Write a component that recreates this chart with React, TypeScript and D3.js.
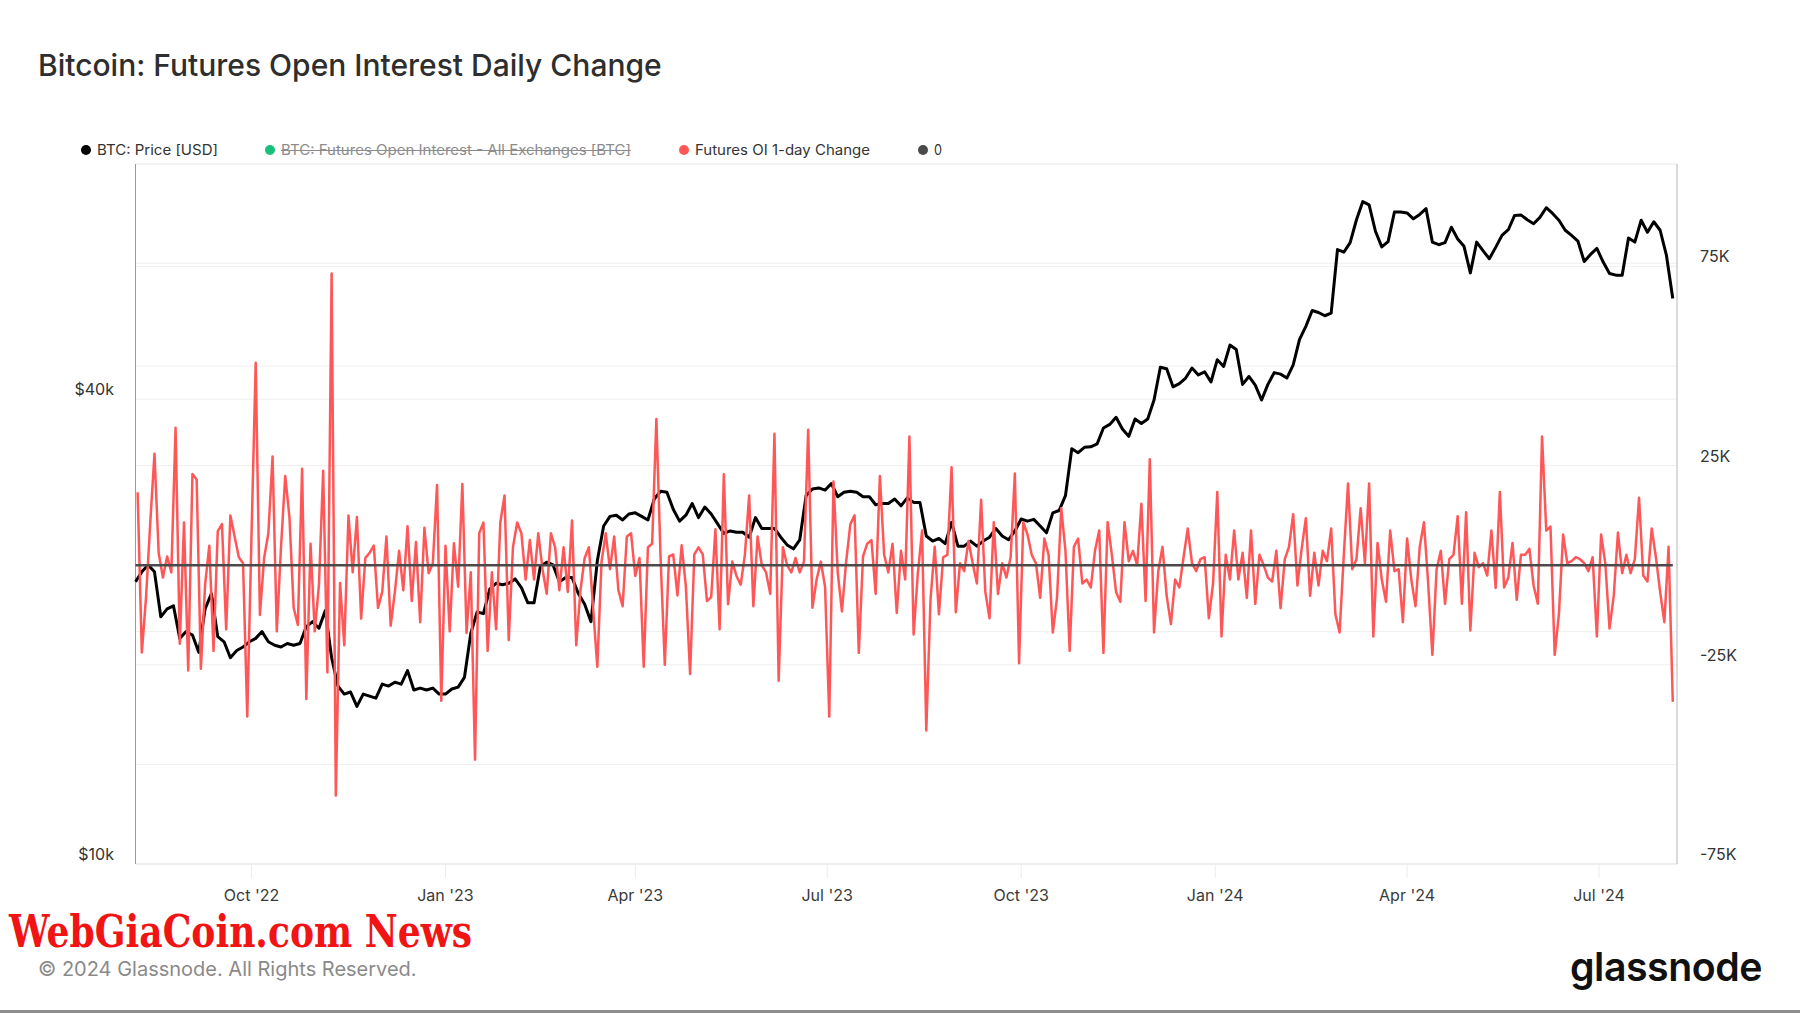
import * as d3 from 'd3';

const DAY = 86400000;

// x domain of the plot
const X_START = new Date(Date.UTC(2022, 7, 7));
const X_END = new Date(Date.UTC(2024, 7, 7));

// BTC: Price [USD, thousands], one reading every 3 days from 2022-08-07
const PRICE_START = Date.UTC(2022, 7, 7);
const PRICE_STEP = 3;
const price2022 = [23.2, 23.9, 24.4, 23.9, 20.9, 21.4, 21.6, 19.6, 20.0, 19.8, 18.8, 21.4, 22.4, 19.7, 19.4, 18.5, 18.9, 19.1, 19.4, 19.6, 20.0, 19.4, 19.2, 19.1, 19.3, 19.2, 19.3, 20.3, 20.6, 20.2, 21.3, 18.5, 17.0, 16.6, 16.7, 16.0, 16.6, 16.5, 16.4, 17.1, 17.0, 17.2, 17.1, 17.8, 16.8, 16.9, 16.8, 16.9, 16.6];
const price2023Q1 = [16.6, 16.85, 16.95, 17.45, 19.9, 21.2, 21.1, 22.7, 23.1, 23.0, 23.1, 23.4, 22.8, 21.8, 21.8, 24.3, 24.6, 24.4, 23.2, 23.5, 23.5, 22.4, 21.7, 20.6, 24.7, 27.4, 28.2, 28.3, 27.9, 28.4];
const price2023Q2 = [28.5, 28.2, 27.9, 29.7, 30.4, 30.3, 28.8, 27.8, 28.3, 29.3, 28.1, 29.0, 28.4, 27.6, 26.8, 27.0, 26.9, 26.9, 26.5, 28.1, 27.2, 27.2, 27.2, 26.5, 25.9, 25.6, 26.3, 30.0, 30.6, 30.7, 30.5];
const price2023Q3 = [31.1, 29.9, 30.3, 30.4, 30.3, 29.9, 29.9, 29.2, 29.3, 29.3, 29.7, 29.1, 29.8, 29.4, 29.4, 26.6, 26.2, 26.4, 26.0, 27.7, 25.8, 25.8, 26.2, 25.8, 26.2, 26.5, 27.2, 26.6, 26.3, 27.0];
const price2023Q4 = [27.98, 27.8, 27.95, 27.4, 26.85, 28.5, 28.7, 30.0, 34.5, 34.1, 34.65, 34.7, 35.0, 36.7, 37.1, 37.9, 36.6, 35.8, 37.7, 37.2, 37.7, 39.9, 44.0, 43.8, 41.5, 41.9, 42.6, 43.9, 43.0, 43.4, 42.1];
const price2024Q1 = [45.0, 44.1, 47.0, 46.4, 41.8, 42.8, 41.7, 39.9, 41.8, 43.3, 43.1, 42.6, 44.3, 47.8, 49.7, 52.1, 51.8, 51.3, 51.7, 62.5, 62.0, 63.8, 68.3, 72.1, 71.4, 66.0, 63.0, 64.0, 69.9, 69.9];
const price2024Q2 = [69.7, 68.5, 69.4, 70.6, 63.9, 63.4, 63.8, 66.8, 64.5, 63.1, 58.3, 63.9, 62.3, 60.8, 62.9, 65.2, 66.3, 69.2, 69.3, 68.3, 67.5, 68.8, 70.8, 69.6, 68.2, 66.2, 65.2, 64.1, 60.3, 61.6, 62.7];
const price2024Q3 = [60.2, 58.2, 57.9, 57.9, 64.7, 63.9, 68.2, 65.8, 67.9, 66.2, 61.4, 54.0];

// Futures OI 1-day change [thousand BTC], one reading every 2 days from 2022-08-08
const OI_START = Date.UTC(2022, 7, 8);
const OI_STEP = 2;
const oiA = [18.3, -21.9, -8.1, 10.7, 28, 3, -3.1, 2.2, -1.8, 34.5, -19.7, 10.7, -26.4, 22.9, 21.5, -26, -4.9, 4.9, -21.5, 8.5, 10.3, -16.1, 12.5, 7.2, 2, 0.5, -38, 7.2, 50.8, -12.5, 1.8, 8, 27.3, -16.6, 4.5, 22.4, 12.1, -10.7, -15, 24.2, -33.6, 5.4, -16.6, -4.9, 23.7, -26.9, 73.2, -57.8, -4.5, -20.1];
const oiB = [12.5, -1.8, 12.1, -13.4, 1.8, 3.1, 4.9, -10.7, -6.7, 7.2, -15.2, -6.7, 3.6, -6.3, 9.8, -9, 5.8, -14.3, 9.4, -2, 0.5, 20.1, -34, 4.9, -16.6, 5.5, -5.4, 20.4, -17, -1.8, -48.8, 8, 10.7, -21.5, -1.8, -16.1, 10.7, 17.5, -18.8, 4.5, 10.7, 8, -3.6, 6.3, -3.6, 8, -1, -7.2, 8, 4.5];
const oiC = [-6.3, 4.5, -6.7, 11.2, -20.1, -6.3, 1.8, 4.5, -10.7, -25.5, 0.9, 8, -1, 7.2, -6.3, -10.3, 7.2, 8, -2.7, 1.8, -25.5, 4.5, 5.4, 36.7, 1.8, -25, 2.2, 2.7, -7.6, 5, -5.4, -27.3, 2.7, 4.5, 2.7, -9, -8, 9, -16.1, 22.8, -9.8, 0.9, -2.7, -4.9, 2.7, 17.5, -10.3, 7.2, 0, -1.8];
const oiD = [-7.2, 33, -29, 4.5, 0, -1.8, 1.8, -1.8, 0.9, 34, -10.7, -3.6, 0.9, -5.4, -38, 21, -1.8, -11.6, 0.9, 10.3, 12.5, -22, 2.2, 5.4, 6.3, -7.2, 22.4, 2.7, -1.8, 5.4, -12, 3.6, -3.6, 32.3, -17.4, -2, 8.7, -41.5, -8.7, 4.6, -12.3, 2, 2.6, 24.6, -11.8, 0.5, -1.5, 6.1, 0.5, -4.6];
const oiE = [16.4, -6.7, -13.3, 10.8, -7.2, 0.5, -3.1, 2, 23, -24.6, 10.8, 7.7, 2.6, 0.5, -8.2, 6.7, 2.6, -16.9, -8.2, 14.3, 3.6, -21.5, 4.6, 6.7, -4.6, -3.6, -5.6, 3.6, 8.7, -22, 10.8, 2.6, -6.7, -9.2, 10.8, 1, 3.6, 0, 15.4, -9, 26.6, -16.9, -1.5, 4.6, -7.7, -14.8, -3.6, -5.6, 2, 9.2];
const oiF = [0.5, -1.5, 1.5, 2, -13.3, -4.6, 18.4, -17.9, 2.6, -3.6, 8.7, -3.6, 3.1, -8.2, 8.7, -9.7, 2.6, 0, -3.1, -4.1, 3.6, -10.8, 1.5, 4.6, 12.8, -5.1, 4.1, 11.8, -7.7, 3.1, -5.1, 3.6, 1, 9.2, -12.3, -16.9, 2.6, 20.5, -1, 1.5, 14.3, 0.5, 20.5, -17.9, 5.6, -3.6, -9.2, 8.7, -1.5, -1];
const oiG = [-14.3, 6.7, -3.6, -10.3, 4.6, 10.8, -4.6, -22.5, -1, 3.6, -9.7, 1.5, 2.6, 12.3, -9.7, 13.3, -16.4, 3.1, -0.5, 0.5, -2.6, 8.7, -5.7, 18.4, -5.6, -3.1, 5.6, -8.7, 2.6, 2.6, 4.1, -5.1, -9.7, 32.3, 8.7, 9.7, -22.5, -12.3, 7.7, 0.5, 1, 2, 1.5, 0.5, -1.5, 2, -17.9, 7.7, 0.5, -15.9];
const oiH = [-7.7, 8.2, -2, 2.6, -2, 1.5, 16.9, -2.6, -4.1, 9.2, 2, -6.7, -14.3, 4.6, -34.3];

// axes
const leftGrid = [20, 40, 60];
const leftLabels = [10, 40];
const rightGrid = [-50, -25, 0, 25, 50, 75];
const rightLabels = [75, 25, -25, -75];

const legendItems = [
  { label: 'BTC: Price [USD]', color: '#000000', x: 86, width: 121, off: false },
  { label: 'BTC: Futures Open Interest - All Exchanges [BTC]', color: '#17c17c', x: 270, width: 350, off: true },
  { label: 'Futures OI 1-day Change', color: '#ff5757', x: 684, width: 175, off: false },
  { label: '0', color: '#4a4a4a', x: 923, width: 8, off: false },
];

const prices = [...price2022, ...price2023Q1, ...price2023Q2, ...price2023Q3, ...price2023Q4, ...price2024Q1, ...price2024Q2, ...price2024Q3]
  .map((v, i) => ({ date: new Date(PRICE_START + i * PRICE_STEP * DAY), v }));
const oiChange = [...oiA, ...oiB, ...oiC, ...oiD, ...oiE, ...oiF, ...oiG, ...oiH]
  .map((v, i) => ({ date: new Date(OI_START + i * OI_STEP * DAY), v }));

const FONT = 'Inter, Roboto, sans-serif';

export default function App() {
  const left = 135.5, right = 1677, top = 164, bottom = 864;

  const x = d3.scaleUtc().domain([X_START, X_END]).range([left, right]);
  const yPrice = d3.scaleLog().domain([10, 80.66]).range([bottom, top]);
  const yOi = d3.scaleLinear().domain([-75, 100.7]).range([bottom, top]);

  const priceLine = d3.line<{ date: Date; v: number }>().x(d => x(d.date)).y(d => yPrice(d.v));
  const oiLine = d3.line<{ date: Date; v: number }>().x(d => x(d.date)).y(d => yOi(d.v));
  const lastDate = oiChange[oiChange.length - 1].date;
  const zero = [{ date: X_START, v: 0 }, { date: lastDate, v: 0 }];

  const xTicks = d3.utcMonth.every(3)!.range(new Date(Date.UTC(2022, 9, 1)), X_END);
  const fmt = d3.utcFormat("%b '%y");

  return (
    <div style={{ position: 'absolute', left: 0, top: 0 }}>
      <svg width={1800} height={1013} style={{ display: 'block', background: '#fff' }} fontFamily={FONT}>
        <rect width={1800} height={1013} fill="#fff" />
        <text x={38} y={76} fontSize={30} fontWeight={500} fill="#2e2e2e">Bitcoin: Futures Open Interest Daily Change</text>

        {legendItems.map(l => (
          <g key={l.label}>
            <circle cx={l.x} cy={150} r={5} fill={l.color} />
            <text x={l.x + 11} y={155} fontSize={14} fill={l.off ? '#8c8c8c' : '#333'}
              textLength={l.width} lengthAdjust="spacingAndGlyphs">{l.label}</text>
            {l.off && <line x1={l.x + 11} x2={l.x + 11 + l.width} y1={150.5} y2={150.5} stroke="#8c8c8c" strokeWidth={1} />}
          </g>
        ))}

        {/* grid */}
        {leftGrid.map(v => (
          <line key={'gl' + v} x1={left} x2={right} y1={yPrice(v)} y2={yPrice(v)} stroke="#efefef" strokeWidth={1} />
        ))}
        {rightGrid.map(v => (
          <line key={'gr' + v} x1={left} x2={right} y1={yOi(v)} y2={yOi(v)} stroke="#efefef" strokeWidth={1} />
        ))}
        <line x1={left} x2={right} y1={top} y2={top} stroke="#e6e6e6" />
        <line x1={left} x2={right} y1={bottom} y2={bottom} stroke="#dddddd" />
        <line x1={left} x2={left} y1={top} y2={bottom} stroke="#9a9a9a" />
        <line x1={right} x2={right} y1={top} y2={bottom} stroke="#b5b5b5" />

        {/* x axis */}
        {xTicks.map(d => (
          <g key={d.toISOString()}>
            <line x1={x(d)} x2={x(d)} y1={bottom} y2={bottom + 14} stroke="#ececec" />
            <text x={x(d)} y={901} fontSize={16} fill="#3a3a3a" textAnchor="middle">{fmt(d)}</text>
          </g>
        ))}

        {leftLabels.map(v => (
          <text key={'ll' + v} x={114} y={yPrice(v) - 4} fontSize={16} fill="#333" textAnchor="end">{`$${v}k`}</text>
        ))}
        {rightLabels.map(v => (
          <text key={'rl' + v} x={1700} y={yOi(v) - 4} fontSize={16} fill="#333">{`${v}K`}</text>
        ))}

        {/* series */}
        <path d={priceLine(prices) ?? ''} fill="none" stroke="#000" strokeWidth={3} strokeLinejoin="round" />
        <path d={oiLine(oiChange) ?? ''} fill="none" stroke="#ff5757" strokeWidth={2.5} strokeLinejoin="round" />
        <path d={oiLine(zero) ?? ''} fill="none" stroke="#4a4a4a" strokeWidth={2.5} />

        {/* footer */}
        <text x={9} y={946.5} fontSize={44} fontWeight={700} fill="#f01414" fontFamily="'DejaVu Serif', serif"
          textLength={463} lengthAdjust="spacingAndGlyphs">WebGiaCoin.com News</text>
        <text x={38} y={976} fontSize={20} fill="#8a8a8a">© 2024 Glassnode. All Rights Reserved.</text>
        <text x={1570} y={981} fontSize={40} fontWeight={600} fill="#111" letterSpacing={-0.5}
          textLength={192} lengthAdjust="spacingAndGlyphs">glassnode</text>
        <rect x={0} y={1010} width={1800} height={3} fill="#8f8f8f" />
      </svg>
    </div>
  );
}
